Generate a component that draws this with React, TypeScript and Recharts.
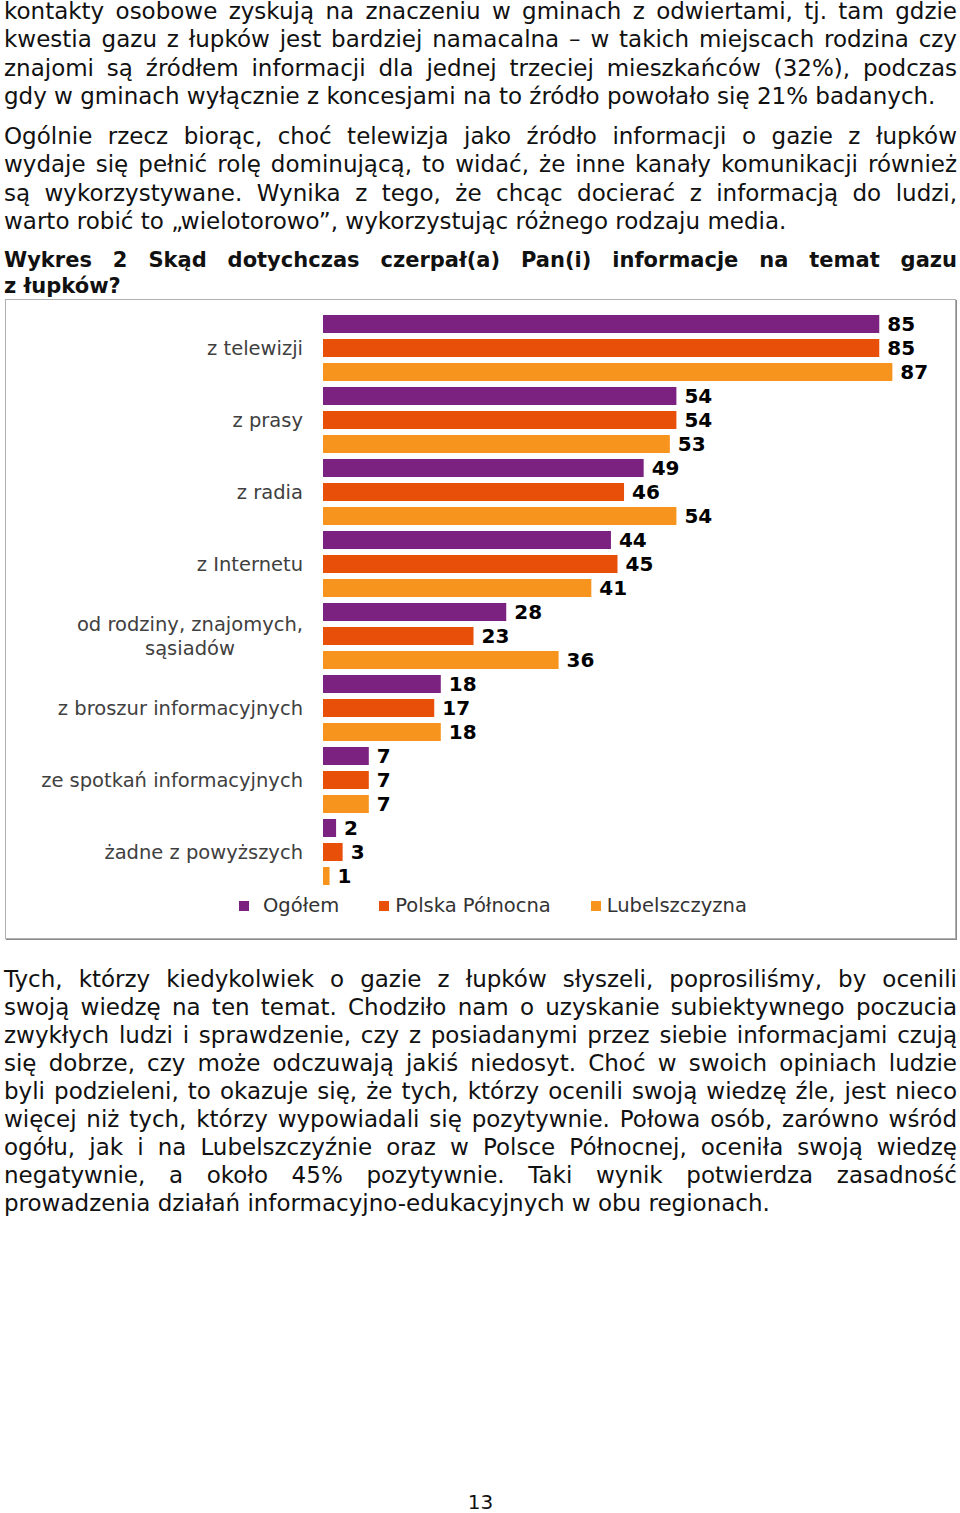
import React from 'react'
import { BarChart, Bar, XAxis, YAxis, LabelList } from 'recharts'

const categories = [
  'z telewizji',
  'z prasy',
  'z radia',
  'z Internetu',
  'od rodziny, znajomych,|sąsiadów',
  'z broszur informacyjnych',
  'ze spotkań informacyjnych',
  'żadne z powyższych',
]
const ogolem = [85, 54, 49, 44, 28, 18, 7, 2]
const polnocna = [85, 54, 46, 45, 23, 17, 7, 3]
const lubelszczyzna = [87, 53, 54, 41, 36, 18, 7, 1]

const seriesNames = ['Ogółem', 'Polska Północna', 'Lubelszczyzna']
const seriesColors = ['#7b2180', '#e8500a', '#f7941d']

const para1 = [
  'kontakty osobowe zyskują na znaczeniu w gminach z odwiertami, tj. tam gdzie',
  'kwestia gazu z łupków jest bardziej namacalna – w takich miejscach rodzina czy',
  'znajomi są źródłem informacji dla jednej trzeciej mieszkańców (32%), podczas',
  'gdy w gminach wyłącznie z koncesjami na to źródło powołało się 21% badanych.',
]
const para2 = [
  'Ogólnie rzecz biorąc, choć telewizja jako źródło informacji o gazie z łupków',
  'wydaje się pełnić rolę dominującą, to widać, że inne kanały komunikacji również',
  'są wykorzystywane. Wynika z tego, że chcąc docierać z informacją do ludzi,',
  'warto robić to „wielotorowo”, wykorzystując różnego rodzaju media.',
]
const titleLines = [
  'Wykres 2 Skąd dotychczas czerpał(a) Pan(i) informacje na temat gazu',
  'z łupków?',
]
const para3 = [
  'Tych, którzy kiedykolwiek o gazie z łupków słyszeli, poprosiliśmy, by ocenili',
  'swoją wiedzę na ten temat. Chodziło nam o uzyskanie subiektywnego poczucia',
  'zwykłych ludzi i sprawdzenie, czy z posiadanymi przez siebie informacjami czują',
  'się dobrze, czy może odczuwają jakiś niedosyt. Choć w swoich opiniach ludzie',
  'byli podzieleni, to okazuje się, że tych, którzy ocenili swoją wiedzę źle, jest nieco',
  'więcej niż tych, którzy wypowiadali się pozytywnie. Połowa osób, zarówno wśród',
  'ogółu, jak i na Lubelszczyźnie oraz w Polsce Północnej, oceniła swoją wiedzę',
  'negatywnie, a około 45% pozytywnie. Taki wynik potwierdza zasadność',
  'prowadzenia działań informacyjno-edukacyjnych w obu regionach.',
]

const data = categories.map((c, i) => ({
  name: c,
  ogolem: ogolem[i],
  polnocna: polnocna[i],
  lubelszczyzna: lubelszczyzna[i],
}))

const FONT = '"DejaVu Sans", Verdana, sans-serif'
const labelFont = 19.5

let ctx: CanvasRenderingContext2D | null = null
function textWidth(s: string) {
  if (!ctx) ctx = document.createElement('canvas').getContext('2d')
  if (!ctx) return s.length * 10
  ctx.font = `${labelFont}px "DejaVu Sans"`
  return ctx.measureText(s).width
}

function CatTick(props: any) {
  const { x, y, payload } = props
  const lines = String(payload.value).split('|')
  if (lines.length === 1) {
    return (
      <text x={x} y={y} dy="0.36em" textAnchor="end" fill="#404040" fontSize={labelFont} fontFamily={FONT}>
        {lines[0]}
      </text>
    )
  }
  const w = textWidth(lines[0])
  return (
    <text y={y} fill="#404040" fontSize={labelFont} fontFamily={FONT} textAnchor="middle">
      {lines.map((l, i) => (
        <tspan key={i} x={x - w / 2} y={y + (i - (lines.length - 1) / 2) * 24} dy="0.36em">{l}</tspan>
      ))}
    </text>
  )
}

function LegendBox() {
  return (
    <div style={{ display: 'flex', paddingLeft: 233, gap: 40, fontFamily: FONT, fontSize: labelFont, color: '#333' }}>
      {seriesNames.map((n, i) => (
        <div key={n} style={{ display: 'flex', alignItems: 'center', gap: i === 0 ? 14 : 6 }}>
          <span style={{ width: 10, height: 10, background: seriesColors[i], display: 'inline-block' }} />
          <span>{n}</span>
        </div>
      ))}
    </div>
  )
}

function Lines({ lines, bold, lh, size }: { lines: string[]; bold?: boolean; lh: number; size: number }) {
  return (
    <div>
      {lines.map((l, i) => {
        const justify = i < lines.length - 1
        return (
          <div key={i} style={{
            fontSize: size, lineHeight: `${lh}px`, fontWeight: bold ? 'bold' : 'normal',
            textAlign: justify ? 'justify' : 'left', textAlignLast: justify ? 'justify' : 'left',
            whiteSpace: 'nowrap',
          }}>{l}</div>
        )
      })}
    </div>
  )
}

export default function App() {
  const labelStyle = { fill: '#000', fontWeight: 'bold', fontSize: 20, fontFamily: FONT }
  return (
    <div style={{ position: 'absolute', left: 4, top: -3, width: 953, height: 1516, fontFamily: FONT, color: '#111', background: '#fff' }}>
      <Lines lines={para1} lh={28.3} size={23} />
      <div style={{ height: 12 }} />
      <Lines lines={para2} lh={28.3} size={23} />
      <div style={{ height: 12 }} />
      <Lines lines={titleLines} lh={26} size={21} bold />
      <div style={{ position: 'absolute', left: 1, top: 302, width: 949, height: 638, border: '1px solid #b0b0b0', boxShadow: '1px 1px 0 #8a8a8a' }}>
        <BarChart width={948} height={638} data={data} layout="vertical" barSize={18} barGap={6}
          margin={{ top: 12, right: 42, left: 0, bottom: 50 }}>
          <XAxis type="number" domain={[0, 90]} hide />
          <YAxis type="category" dataKey="name" width={317} axisLine={false} tickLine={false}
            tickSize={0} tickMargin={20} tick={<CatTick />} interval={0} />
          <Bar dataKey="ogolem" name={seriesNames[0]} fill={seriesColors[0]} isAnimationActive={false}>
            <LabelList dataKey="ogolem" position="right" offset={8} style={labelStyle} />
          </Bar>
          <Bar dataKey="polnocna" name={seriesNames[1]} fill={seriesColors[1]} isAnimationActive={false}>
            <LabelList dataKey="polnocna" position="right" offset={8} style={labelStyle} />
          </Bar>
          <Bar dataKey="lubelszczyzna" name={seriesNames[2]} fill={seriesColors[2]} isAnimationActive={false}>
            <LabelList dataKey="lubelszczyzna" position="right" offset={8} style={labelStyle} />
          </Bar>
        </BarChart>
        <div style={{ position: 'absolute', left: 0, top: 594, width: 948 }}>
          <LegendBox />
        </div>
      </div>
      <div style={{ position: 'absolute', left: 0, top: 968, width: 953 }}>
        <Lines lines={para3} lh={28} size={23} />
      </div>
      <div style={{ position: 'absolute', left: 0, top: 1491, width: 953, textAlign: 'center', fontSize: 20, lineHeight: '28px' }}>
        13
      </div>
    </div>
  )
}
